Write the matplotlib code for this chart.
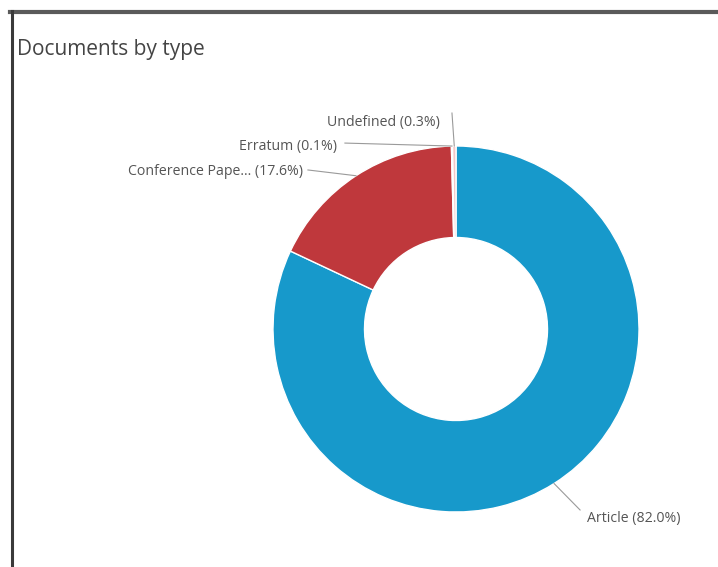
import numpy as np
import matplotlib
matplotlib.use("Agg")
import matplotlib.pyplot as plt
from matplotlib.lines import Line2D

plt.rcParams['font.family'] = ['Open Sans', 'DejaVu Sans']

# Document types and their share of the total (%)
categories = ["Article", "Conference Pape...", "Erratum", "Undefined"]
shares = [82.0, 17.6, 0.1, 0.3]
colors = ["#1799cb", "#bf383c", "#e9a3a5", "#f4c6c6"]

W, H = 718, 567
fig = plt.figure(figsize=(W / 100, H / 100), dpi=100)
fig.patch.set_facecolor("white")

# Donut placement in pixels: centre and outer radius
cx, cy, r = 456, 329, 183
ax = fig.add_axes([(cx - r) / W, (H - cy - r) / H, 2 * r / W, 2 * r / H])

wedges, _ = ax.pie(shares, colors=colors, startangle=90, counterclock=False,
                   radius=1.0,
                   wedgeprops=dict(width=0.5, edgecolor="white", linewidth=1.0))
ax.set_xlim(-1, 1)
ax.set_ylim(-1, 1)
ax.set_aspect("equal")
ax.axis("off")

# Leader line end points and label alignment (data units of the donut axes)
label_ends = {
    "Article": ((0.678, -0.989), "left"),
    "Conference Pape...": ((-0.809, 0.869), "right"),
    "Erratum": ((-0.607, 1.016), "right"),
    "Undefined": ((-0.022, 1.18), "right"),
}
label_text_pos = {
    "Article": (0.716, -1.033),
    "Conference Pape...": (-0.836, 0.858),
    "Erratum": (-0.65, 0.995),
    "Undefined": (-0.087, 1.131),
}

for w, name, val in zip(wedges, categories, shares):
    mid = np.deg2rad((w.theta1 + w.theta2) / 2.0)
    x0, y0 = np.cos(mid), np.sin(mid)
    (x1, y1), ha = label_ends[name]
    ax.add_line(Line2D([x0, x1], [y0, y1], color="#9a9a9a", lw=0.8,
                       clip_on=False))
    tx, ty = label_text_pos[name]
    ax.text(tx, ty, f"{name} ({val:.1f}%)", ha=ha, va="center",
            fontsize=10.2, color="#555555", clip_on=False)

# Title
fig.text(17 / W, 1 - 49 / H, "Documents by type", ha="left", va="center",
         fontsize=15, color="#444444")

# Panel border (top and left edges)
fig.add_artist(Line2D([10 / W, 1.0], [1 - 12 / H, 1 - 12 / H],
                      transform=fig.transFigure, color="#5a5a5a", lw=3.0))
fig.add_artist(Line2D([11.5 / W, 11.5 / W], [0, 1 - 10.5 / H],
                      transform=fig.transFigure, color="#3a3a3a", lw=2.2))

fig.savefig("out.png", dpi=100, facecolor="white")
